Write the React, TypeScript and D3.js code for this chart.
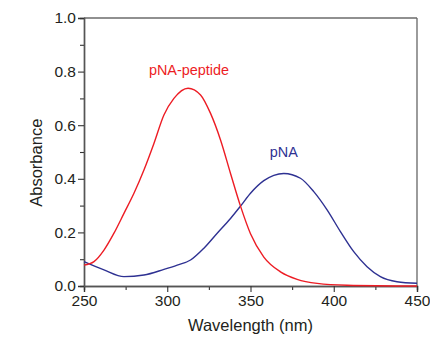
import React, { useEffect, useRef } from "react";
import * as d3 from "d3";

const xTicks = [250, 300, 350, 400, 450];
const yTicks = [0.0, 0.2, 0.4, 0.6, 0.8, 1.0];

// pNA-peptide (red)
const peptideWl = [250, 256, 262, 268, 274, 280, 286, 292, 298, 304, 312.5, 320, 326, 332, 338, 344, 350, 358, 368, 378, 390, 408, 450];
const peptideAbs = [0.078, 0.091, 0.134, 0.197, 0.271, 0.346, 0.433, 0.532, 0.638, 0.7, 0.738, 0.713, 0.644, 0.545, 0.42, 0.298, 0.195, 0.108, 0.053, 0.025, 0.01, 0.003, 0.0];

// pNA (blue)
const pnaWl = [250, 262, 274, 286, 298, 306, 314, 322, 330, 338, 344, 350, 358, 364, 370, 380, 388, 396, 404, 412, 420, 428, 438, 450];
const pnaAbs = [0.091, 0.06, 0.035, 0.041, 0.062, 0.078, 0.097, 0.141, 0.197, 0.252, 0.298, 0.346, 0.393, 0.413, 0.42, 0.402, 0.352, 0.284, 0.203, 0.128, 0.072, 0.035, 0.016, 0.01];

const W = 430;
const H = 339;
const margin = { top: 18, right: 13, bottom: 53, left: 84 };
const RED = "#ed1c24";
const BLUE = "#2e3192";
const FONT = "'Liberation Sans', Arial, sans-serif";

export default function App() {
  const ref = useRef<SVGSVGElement>(null);

  useEffect(() => {
    document.body.style.margin = "0";
    const svg = d3.select(ref.current);
    svg.selectAll("*").remove();

    const x = d3.scaleLinear().domain([250, 450]).range([margin.left, W - margin.right]);
    const y = d3.scaleLinear().domain([0, 1]).range([H - margin.bottom, margin.top]);

    const g = svg.append("g");

    // frame
    g.append("line").attr("x1", x(250)).attr("x2", x(450)).attr("y1", y(1)).attr("y2", y(1))
      .attr("stroke", "#222").attr("stroke-width", 1.2);
    g.append("line").attr("x1", x(450)).attr("x2", x(450)).attr("y1", y(1)).attr("y2", y(0))
      .attr("stroke", "#666").attr("stroke-width", 1.3);

    const xAxis = d3.axisBottom(x).tickValues(xTicks).tickFormat(d3.format("d")).tickSize(6).tickPadding(3);
    const xMinor = d3.axisBottom(x).tickValues(d3.range(275, 450, 50)).tickFormat(() => "").tickSize(4);
    const yAxis = d3.axisLeft(y).tickValues(yTicks).tickFormat(d3.format(".1f")).tickSize(6).tickPadding(2);
    const yMinor = d3.axisLeft(y).tickValues(d3.range(0.1, 1, 0.2)).tickFormat(() => "").tickSize(4);

    const style = (sel: any) => {
      sel.select(".domain").attr("stroke", "#555").attr("stroke-width", 1.4);
      sel.selectAll(".tick line").attr("stroke", "#333").attr("stroke-width", 1.1);
      sel.selectAll(".tick text").attr("fill", "#231f20").style("font-family", FONT).style("font-size", "15.5px");
    };

    g.append("g").attr("transform", `translate(0,${y(0)})`).call(xMinor).call(style);
    g.append("g").attr("transform", `translate(0,${y(0)})`).call(xAxis).call(style);
    g.append("g").attr("transform", `translate(${x(250)},0)`).call(yMinor).call(style);
    g.append("g").attr("transform", `translate(${x(250)},0)`).call(yAxis).call(style);

    const line = d3.line<[number, number]>()
      .x((d) => x(d[0]))
      .y((d) => y(d[1]))
      .curve(d3.curveMonotoneX);

    g.append("path")
      .attr("d", line(pnaWl.map((w, i) => [w, pnaAbs[i]] as [number, number])))
      .attr("fill", "none").attr("stroke", BLUE).attr("stroke-width", 1.4);
    g.append("path")
      .attr("d", line(peptideWl.map((w, i) => [w, peptideAbs[i]] as [number, number])))
      .attr("fill", "none").attr("stroke", RED).attr("stroke-width", 1.4);

    g.append("text").attr("x", x(313)).attr("y", 75).attr("text-anchor", "middle")
      .attr("fill", RED).style("font-family", FONT).style("font-size", "14.4px").text("pNA-peptide");
    g.append("text").attr("x", x(370)).attr("y", 157).attr("text-anchor", "middle")
      .attr("fill", BLUE).style("font-family", FONT).style("font-size", "14.4px").text("pNA");

    g.append("text").attr("x", x(350)).attr("y", 331).attr("text-anchor", "middle")
      .attr("fill", "#231f20").style("font-family", FONT).style("font-size", "16.5px").text("Wavelength (nm)");
    g.append("text").attr("transform", `translate(42,${y(0.46)}) rotate(-90)`).attr("text-anchor", "middle")
      .attr("fill", "#231f20").style("font-family", FONT).style("font-size", "16.5px").text("Absorbance");
  }, []);

  return <svg ref={ref} width={W} height={H} style={{ display: "block", background: "#fff" }} />;
}
